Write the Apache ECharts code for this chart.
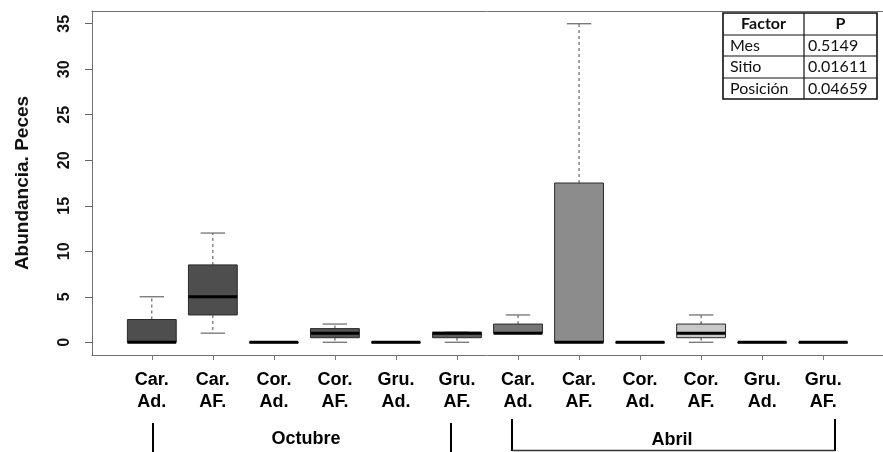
<!DOCTYPE html>
<html><head><meta charset="utf-8">
<script src="https://cdn.jsdelivr.net/npm/echarts@6/dist/echarts.min.js"></script>
<style>html,body{margin:0;padding:0;background:#fff}#c{width:883px;height:452px}</style>
</head><body><div id="c"></div>
<script>
// ---- data ----
const categories = ['Car.\nAd.','Car.\nAF.','Cor.\nAd.','Cor.\nAF.','Gru.\nAd.','Gru.\nAF.',
                    'Car.\nAd.','Car.\nAF.','Cor.\nAd.','Cor.\nAF.','Gru.\nAd.','Gru.\nAF.'];
const positions = [1,2,3,4,5,6,7,8,9,10,11,12];
const mins    = [0, 1, 0, 0,   0, 0,   1, 0,    0, 0,   0, 0];
const q1s     = [0, 3, 0, 0.5, 0, 0.5, 1, 0,    0, 0.5, 0, 0];
const medians = [0, 5, 0, 1,   0, 1,   1, 0,    0, 1,   0, 0];
const q3s     = [2.5, 8.5, 0, 1.5, 0, 1.1, 2, 17.5, 0, 2, 0, 0];
const maxs    = [5, 12, 0, 2,   0, 1.1, 3, 35,   0, 3,   0, 0];
const yTicks = [0,5,10,15,20,25,30,35];
const yTitle = 'Abundancia. Peces';
const months = ['Octubre','Abril'];
const tableHeader = ['Factor','P'];
const tableFactors = ['Mes','Sitio','Posición'];
const tablePValues = ['0.5149','0.01611','0.04659'];

// ---- styles ----
const boxColors = ['#4e4e4e','#4e4e4e','#4e4e4e','#555555','#4e4e4e','#5c5c5c',
                   '#767676','#8c8c8c','#4e4e4e','#c8c8c8','#4e4e4e','#4e4e4e'];
const FONT = '"Liberation Sans", Arial, sans-serif';
const TFONT = 'Lato, "Noto Sans", sans-serif';
const FRAME = '#707070';

const boxData = positions.map((p,i)=>[p, mins[i], q1s[i], medians[i], q3s[i], maxs[i], i]);

function renderBox(params, api){
  const x = api.value(0);
  const mn = api.value(1), q1 = api.value(2), md = api.value(3), q3 = api.value(4), mx = api.value(5);
  const idx = api.value(6);
  const w = api.size([0.8, 0])[0];
  const cx = api.coord([x, 0])[0];
  const y = v => api.coord([x, v])[1];
  const wStyle = {stroke:'#4a4a4a', lineWidth:1, lineDash:[3,3], fill:null};
  const cStyle = {stroke:'#666', lineWidth:1.2, fill:null};
  return {type:'group', children:[
    {type:'line', shape:{x1:cx,y1:y(q3),x2:cx,y2:y(mx)}, style:wStyle},
    {type:'line', shape:{x1:cx,y1:y(q1),x2:cx,y2:y(mn)}, style:wStyle},
    {type:'line', shape:{x1:cx-w/4,y1:y(mx),x2:cx+w/4,y2:y(mx)}, style:cStyle},
    {type:'line', shape:{x1:cx-w/4,y1:y(mn),x2:cx+w/4,y2:y(mn)}, style:cStyle},
    {type:'rect', shape:{x:cx-w/2, y:y(q3), width:w, height:Math.max(y(q1)-y(q3),0.5)},
      style:{fill:boxColors[idx], stroke:'#2a2a2a', lineWidth:1}},
    {type:'line', shape:{x1:cx-w/2,y1:y(md),x2:cx+w/2,y2:y(md)}, style:{stroke:'#000', lineWidth:3}}
  ]};
}

// table graphic
const tX = [723, 804, 877];
const tY = [13, 35, 56, 78, 99];
const tableEls = [];
tableEls.push({type:'rect', shape:{x:tX[0], y:tY[0], width:tX[2]-tX[0], height:tY[4]-tY[0]},
  style:{fill:'#fff', stroke:'#111', lineWidth:1.6}, z:10});
for (let r=1;r<4;r++) tableEls.push({type:'line', shape:{x1:tX[0],y1:tY[r],x2:tX[2],y2:tY[r]}, style:{stroke:'#111', lineWidth:1.2}, z:11});
tableEls.push({type:'line', shape:{x1:tX[1],y1:tY[0],x2:tX[1],y2:tY[4]}, style:{stroke:'#111', lineWidth:1.2}, z:11});
function tText(t, x, y, align, bold){
  return {type:'text', z:12, style:{text:t, x:x, y:y, fill:'#111',
    font:(bold?'bold ':'')+'16px '+TFONT, align:align, verticalAlign:'middle',
    textAlign:align, textVerticalAlign:'middle'}};
}
tableEls.push(tText(tableHeader[0], (tX[0]+tX[1])/2, (tY[0]+tY[1])/2, 'center', true));
tableEls.push(tText(tableHeader[1], (tX[1]+tX[2])/2, (tY[0]+tY[1])/2, 'center', true));
tableFactors.forEach((f,i)=>{
  const yc = (tY[i+1]+tY[i+2])/2;
  tableEls.push(tText(f, tX[0]+7, yc, 'left', false));
  tableEls.push(tText(tablePValues[i], tX[1]+4, yc, 'left', false));
});

// month brackets
const bracketEls = [
  {type:'line', shape:{x1:153,y1:423,x2:153,y2:452}, style:{stroke:'#000', lineWidth:2}},
  {type:'line', shape:{x1:451,y1:423,x2:451,y2:452}, style:{stroke:'#000', lineWidth:2}},
  {type:'line', shape:{x1:512,y1:419,x2:512,y2:451}, style:{stroke:'#000', lineWidth:2}},
  {type:'line', shape:{x1:835,y1:419,x2:835,y2:451}, style:{stroke:'#000', lineWidth:2}},
  {type:'line', shape:{x1:512,y1:450.5,x2:835,y2:450.5}, style:{stroke:'#333', lineWidth:1.5}},
  {type:'text', style:{text:months[0], x:306, y:439, fill:'#000', font:'bold 18px '+FONT,
     align:'center', verticalAlign:'middle', textAlign:'center', textVerticalAlign:'middle'}},
  {type:'text', style:{text:months[1], x:672, y:440, fill:'#000', font:'bold 18px '+FONT,
     align:'center', verticalAlign:'middle', textAlign:'center', textVerticalAlign:'middle'}}
];

const chart = echarts.init(document.getElementById('c'), null, {renderer:'canvas'});
chart.setOption({
  animation:false,
  backgroundColor:'#fff',
  grid:{left:92, top:11, width:794, height:344, show:false},
  xAxis:[{type:'value', min:0.02, max:12.98, position:'bottom',
    axisLine:{show:true, onZero:false, lineStyle:{color:FRAME, width:1}}, splitLine:{show:false},
    axisTick:{show:true, customValues:positions, length:5, lineStyle:{color:'#777'}},
    axisLabel:{show:true, customValues:positions, margin:14,
      formatter:v=>categories[positions.indexOf(Math.round(v))] || '',
      color:'#000', fontSize:18, fontWeight:'bold', fontFamily:FONT, lineHeight:22}
  },{type:'value', min:0.02, max:12.98, position:'top',
    axisLine:{show:true, onZero:false, lineStyle:{color:FRAME, width:1}}, splitLine:{show:false},
    axisTick:{show:false}, axisLabel:{show:false}
  }],
  yAxis:{type:'value', min:-1.4, max:36.4,
    name:yTitle, nameLocation:'middle', nameGap:60, nameRotate:90,
    nameTextStyle:{fontSize:19, fontWeight:'bold', color:'#111', fontFamily:FONT},
    axisLine:{show:true, onZero:false, lineStyle:{color:FRAME, width:1}}, splitLine:{show:false},
    axisTick:{show:true, customValues:yTicks, length:7, lineStyle:{color:'#666'}},
    axisLabel:{show:true, customValues:yTicks, rotate:90, margin:19,
      color:'#111', fontSize:16, fontWeight:'bold', fontFamily:FONT}
  },
  series:[{type:'custom', xAxisIndex:0, renderItem:renderBox, data:boxData, clip:false,
    encode:{x:0, y:[1,2,3,4,5]}}],
  graphic:[{type:'group', children:bracketEls.concat(tableEls)}]
});
</script></body></html>
